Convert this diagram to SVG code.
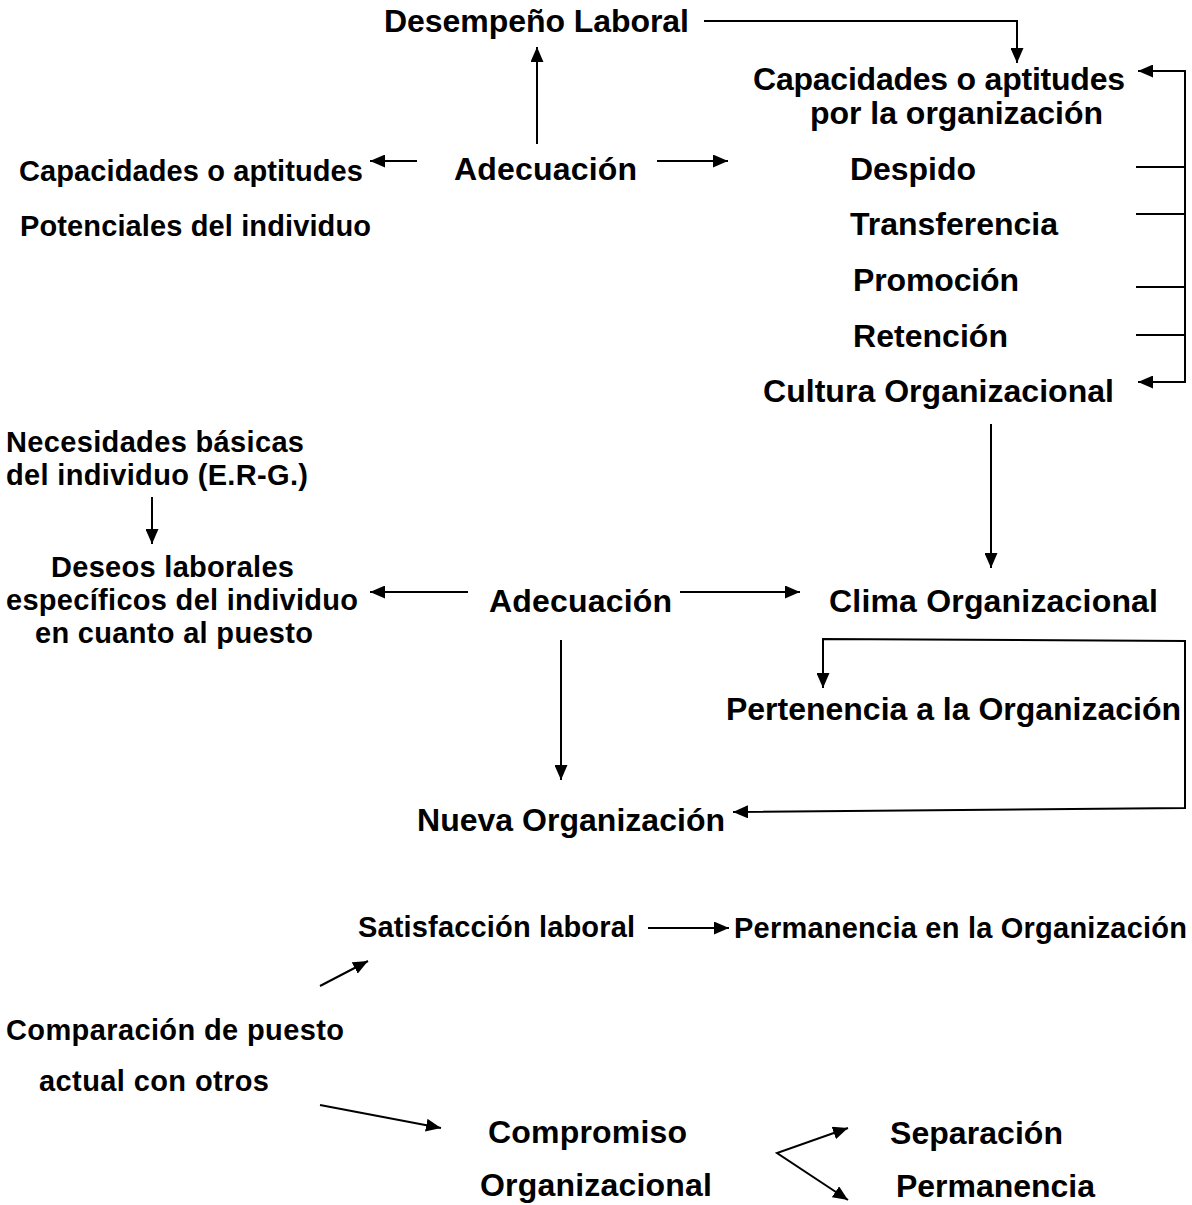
<svg xmlns="http://www.w3.org/2000/svg" width="1192" height="1205" viewBox="0 0 1192 1205">
<style>
text{font-family:"Liberation Sans",Arial,sans-serif;font-weight:bold;font-size:32px;fill:#000}
text.s{font-size:29px}
.c{fill:none;stroke:#000;stroke-width:2}
</style>
<defs>
<marker id="ah" viewBox="0 0 15 13" refX="15" refY="6.5" markerWidth="15" markerHeight="13" markerUnits="userSpaceOnUse" orient="auto-start-reverse">
<path d="M0,0 L15,6.5 L0,13 z" fill="#000"/>
</marker>
</defs>
<rect width="1192" height="1205" fill="#fff"/>
<g id="n-desempeno"><text x="384" y="32" textLength="305">Desempeño Laboral</text></g>
<g id="n-capacidades-org"><text x="753" y="90" textLength="372">Capacidades o aptitudes</text><text x="810" y="124" textLength="293">por la organización</text></g>
<g id="n-despido"><text x="850" y="180" textLength="126">Despido</text></g>
<g id="n-transferencia"><text x="850" y="235" textLength="208">Transferencia</text></g>
<g id="n-promocion"><text x="853" y="291" textLength="166">Promoción</text></g>
<g id="n-retencion"><text x="853" y="347" textLength="155">Retención</text></g>
<g id="n-cultura"><text x="763" y="402" textLength="351">Cultura Organizacional</text></g>
<g id="n-capacidades-ind"><text class="s" x="19" y="181" textLength="344">Capacidades o aptitudes</text><text class="s" x="20" y="236" textLength="351">Potenciales del individuo</text></g>
<g id="n-adecuacion1"><text x="454" y="180" textLength="183">Adecuación</text></g>
<g id="n-necesidades"><text class="s" x="6" y="452" textLength="298">Necesidades básicas</text><text class="s" x="6" y="485" textLength="302">del individuo (E.R-G.)</text></g>
<g id="n-deseos"><text class="s" x="51" y="577" textLength="243">Deseos laborales</text><text class="s" x="6" y="610" textLength="352">específicos del individuo</text><text class="s" x="35" y="643" textLength="278">en cuanto al puesto</text></g>
<g id="n-adecuacion2"><text x="489" y="612" textLength="183">Adecuación</text></g>
<g id="n-clima"><text x="829" y="612" textLength="329">Clima Organizacional</text></g>
<g id="n-pertenencia"><text x="726" y="720" textLength="455">Pertenencia a la Organización</text></g>
<g id="n-nueva"><text x="417" y="831" textLength="308">Nueva Organización</text></g>
<g id="n-satisfaccion"><text class="s" x="358" y="937" textLength="277">Satisfacción laboral</text></g>
<g id="n-permanencia-org"><text class="s" x="734" y="938" textLength="453">Permanencia en la Organización</text></g>
<g id="n-comparacion"><text class="s" x="6" y="1040" textLength="338">Comparación de puesto</text><text class="s" x="39" y="1091" textLength="230">actual con otros</text></g>
<g id="n-compromiso"><text x="488" y="1143" textLength="199">Compromiso</text><text x="480" y="1196" textLength="232">Organizacional</text></g>
<g id="n-separacion"><text x="890" y="1144" textLength="173">Separación</text></g>
<g id="n-permanencia"><text x="896" y="1197" textLength="199">Permanencia</text></g>
<g id="connectors">
<path class="c" d="M704,21 H1017 V63" marker-end="url(#ah)"/>
<path class="c" d="M537,144 V47" marker-end="url(#ah)"/>
<path class="c" d="M417,161 H370" marker-end="url(#ah)"/>
<path class="c" d="M657,161 H728" marker-end="url(#ah)"/>
<path class="c" d="M1185,226 V71 H1138" marker-end="url(#ah)"/>
<path class="c" d="M1185,226 V382 H1138" marker-end="url(#ah)"/>
<path class="c" d="M1136,167 H1185 M1136,214 H1185 M1136,287 H1185 M1136,335 H1185"/>
<path class="c" d="M991,424 V568" marker-end="url(#ah)"/>
<path class="c" d="M152,497 V544" marker-end="url(#ah)"/>
<path class="c" d="M468,592 H370" marker-end="url(#ah)"/>
<path class="c" d="M680,592 H800" marker-end="url(#ah)"/>
<path class="c" d="M561,640 V780" marker-end="url(#ah)"/>
<path class="c" d="M823,688 V639 L1185,641 V808 L733,812" marker-start="url(#ah)" marker-end="url(#ah)"/>
<path class="c" d="M648,928 H729" marker-end="url(#ah)"/>
<path class="c" d="M320,986 L368,961" marker-end="url(#ah)"/>
<path class="c" d="M320,1105 L441,1128" marker-end="url(#ah)"/>
<path class="c" d="M848,1128 L777,1153 L848,1200" marker-start="url(#ah)" marker-end="url(#ah)"/>
</g>
</svg>
